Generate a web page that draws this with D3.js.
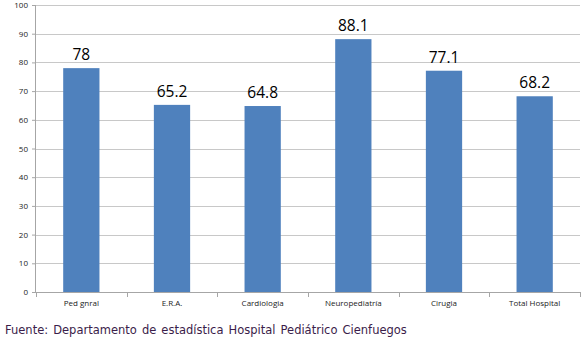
<!DOCTYPE html>
<html>
<head>
<meta charset="utf-8">
<script src="https://cdn.jsdelivr.net/npm/d3@7"></script>
<style>
  body { margin: 0; background: #fff; }
</style>
</head>
<body>
<div id="chart"></div>
<script>
// Chart data
const categories = ['Ped gnral', 'E.R.A.', 'Cardiologia', 'Neuropediatría', 'Cirugia', 'Total Hospital'];
const values = [78, 65.2, 64.8, 88.1, 77.1, 68.2];
const valueLabels = ['78', '65.2', '64.8', '88.1', '77.1', '68.2'];
const yTicks = [0, 10, 20, 30, 40, 50, 60, 70, 80, 90, 100];
const sourceText = 'Fuente: Departamento de estadística Hospital Pediátrico Cienfuegos';

const W = 585, H = 340;
const margin = { top: 5, right: 5, bottom: 48, left: 36 };
const width = W - margin.left - margin.right;
const height = H - margin.top - margin.bottom;

const svg = d3.select('#chart')
    .append('svg')
    .attr('width', W)
    .attr('height', H);

const g = svg.append('g')
    .attr('transform', `translate(${margin.left},${margin.top})`);

const x = d3.scaleBand().domain(categories).range([0, width]).padding(0);
const y = d3.scaleLinear().domain([0, 100]).range([height, 0]);

// Gridlines
g.selectAll('.grid')
    .data(yTicks.filter(d => d > 0))
    .enter()
    .append('line')
    .attr('x1', 0)
    .attr('x2', width)
    .attr('y1', d => Math.round(y(d)) + 0.5)
    .attr('y2', d => Math.round(y(d)) + 0.5)
    .attr('stroke', '#c8c8c8')
    .attr('stroke-width', 1);

// Bars
const barW = x.bandwidth() * 0.4;
g.selectAll('.bar')
    .data(values)
    .enter()
    .append('rect')
    .attr('class', 'bar')
    .attr('x', (d, i) => x(categories[i]) + (x.bandwidth() - barW) / 2)
    .attr('y', d => y(d))
    .attr('width', barW)
    .attr('height', d => height - y(d))
    .attr('fill', '#4f81bd');

// Value labels
g.selectAll('.val')
    .data(values)
    .enter()
    .append('text')
    .attr('x', (d, i) => x(categories[i]) + x.bandwidth() / 2)
    .attr('y', d => y(d) - 8)
    .attr('text-anchor', 'middle')
    .attr('font-family', '"Open Sans", "Liberation Sans", sans-serif')
    .attr('font-size', '15.5px')
    .attr('fill', '#000')
    .text((d, i) => valueLabels[i]);

// Y axis
const yAxis = g.append('g')
    .call(d3.axisLeft(y).tickValues(yTicks).tickSize(4).tickPadding(4))
    .attr('font-family', '"Open Sans", "Liberation Sans", sans-serif')
    .attr('font-size', '8px');
yAxis.select('.domain').attr('stroke', '#a6a6a6').attr('d', `M-0.5,0V${height}`);
yAxis.selectAll('.tick line').attr('stroke', '#a6a6a6');
yAxis.selectAll('.tick text').attr('fill', '#222');

// X axis
const xAxisG = g.append('g')
    .attr('transform', `translate(0,${height})`);
xAxisG.append('line')
    .attr('x1', 0).attr('x2', width)
    .attr('y1', 0.5).attr('y2', 0.5)
    .attr('stroke', '#a6a6a6');
xAxisG.selectAll('.xt')
    .data(d3.range(categories.length + 1))
    .enter()
    .append('line')
    .attr('x1', i => Math.round(i * x.step()) + 0.5)
    .attr('x2', i => Math.round(i * x.step()) + 0.5)
    .attr('y1', 0)
    .attr('y2', 5)
    .attr('stroke', '#a6a6a6');
xAxisG.selectAll('.xl')
    .data(categories)
    .enter()
    .append('text')
    .attr('x', d => x(d) + x.bandwidth() / 2)
    .attr('y', 14)
    .attr('text-anchor', 'middle')
    .attr('font-family', '"Open Sans", "Liberation Sans", sans-serif')
    .attr('font-size', '8px')
    .attr('fill', '#222')
    .text(d => d);

// Source note
svg.append('text')
    .attr('x', 5)
    .attr('y', 334)
    .attr('font-family', '"DejaVu Sans", Verdana, sans-serif')
    .attr('font-size', '11.5px')
    .attr('fill', '#3b1d4a')
    .attr('word-spacing', '1.4px')
    .text(sourceText);
</script>
</body>
</html>
